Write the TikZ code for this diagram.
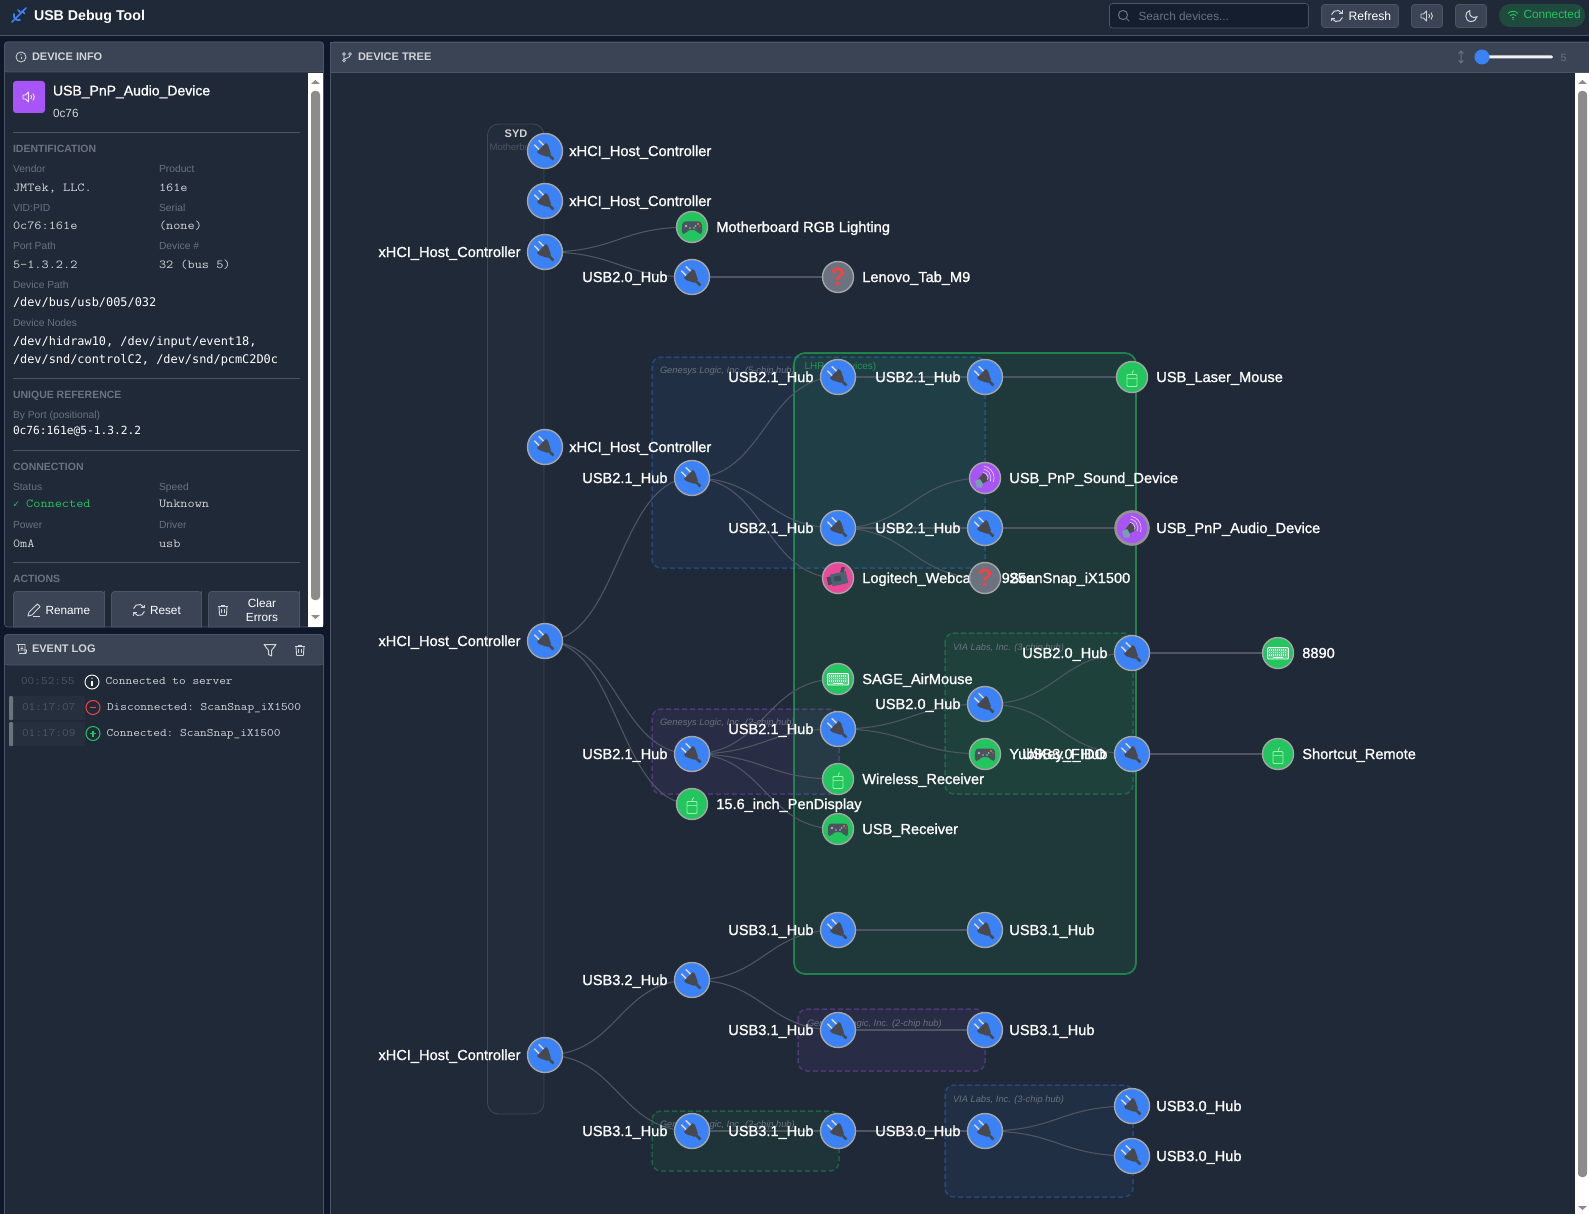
\documentclass[tikz,border=0pt]{standalone}
\usepackage{fontspec}
\usetikzlibrary{calc}
\setmainfont{Liberation Sans}
\newfontfamily\labf[FakeBold=1.1]{Liberation Sans}
\newfontfamily\courf[FakeStretch=1.14]{Latin Modern Mono}
\newfontfamily\dejm{DejaVu Sans Mono}
\newcommand\fsz[1]{\fontsize{#1}{#1}\selectfont}
\definecolor{page}{HTML}{0F172A}
\definecolor{panel}{HTML}{1F2937}
\definecolor{head}{HTML}{3A4455}
\definecolor{bord}{HTML}{4B5563}
\definecolor{mut}{HTML}{6B7280}
\definecolor{soft}{HTML}{D1D5DB}
\definecolor{blu}{HTML}{3B82F6}
\definecolor{grn}{HTML}{22C55E}
\definecolor{pur}{HTML}{A855F7}
\definecolor{pnk}{HTML}{EC4899}
\definecolor{gry}{HTML}{6B7280}
\definecolor{dk}{HTML}{47494F}
\definecolor{padc}{HTML}{4B5260}
\definecolor{camc}{HTML}{4A6472}
\definecolor{camd}{HTML}{3A4D5A}
\definecolor{redc}{HTML}{EF4444}
\definecolor{scrl}{HTML}{8C8C8C}
\definecolor{edgec}{HTML}{4F5563}
\colorlet{nodeb}{gray!70!white}
\pgfdeclarelayer{under}
\pgfdeclarelayer{links}
\pgfsetlayers{under,links,main}
\newcounter{tnum}
\newcommand\tx[3][]{\stepcounter{tnum}\node[txt,#1] (t\arabic{tnum}) at (#2) {#3};}
\tikzset{
  txt/.style={anchor=mid west,inner sep=0pt,outer sep=0pt,text=white,yshift=-1.8pt},
  sect/.style={font=\fsz{10.5}\bfseries,text=mut},
  key/.style={font=\fsz{10.3},text=mut},
  val/.style={font=\fsz{12.2}\courf\frenchspacing,text=soft},
  logv/.style={font=\fsz{11.4}\courf\frenchspacing,text=soft,yshift=1pt},
  devm/.style={font=\fsz{11.9}\dejm\frenchspacing,text=white},
  lbl/.style={inner sep=0pt,outer sep=0pt,text=white,font=\fsz{14.6}\labf},
  devnode/.style={circle,inner sep=0pt,outer sep=0pt,draw=nodeb,line width=1.4pt,minimum size=#1},
  hubn/.style={devnode=35pt,fill=blu},
  grnn/.style={devnode=31pt,fill=grn},
  purn/.style={devnode=31pt,fill=pur},
  pnkn/.style={devnode=31pt,fill=pnk},
  gryn/.style={devnode=31pt,fill=gry},
  edgeln/.style={draw=edgec,line width=1.1pt},
  grpblue/.style={draw=blu,draw opacity=.32,fill=blu,fill opacity=.07,dash pattern=on 5pt off 3pt,line width=1.5pt,rounded corners=9pt},
  grppur/.style={draw=pur,draw opacity=.32,fill=pur,fill opacity=.07,dash pattern=on 5pt off 3pt,line width=1.5pt,rounded corners=9pt},
  grpgrn/.style={draw=grn,draw opacity=.32,fill=grn,fill opacity=.07,dash pattern=on 5pt off 3pt,line width=1.5pt,rounded corners=9pt},
  grplab/.style={font=\fsz{9.3}\itshape,text=mut},
  btn/.style={draw=bord,fill=#1,line width=.7pt,rounded corners=3pt},
  plugicon/.pic={
    \begin{scope}[rotate=45,scale=.92,yshift=-.5pt]
      \fill[white!85!black] (-4.2,-13.5) rectangle (-2.6,-5);
      \fill[white!85!black] (2.6,-13.5) rectangle (4.2,-5);
      \fill[dk] (-6.8,-6) -- (6.8,-6) -- (6.8,-2.5) -- (2.6,6) -- (-2.6,6) -- (-6.8,-2.5) -- cycle;
      \fill[dk] (-1.4,5) rectangle (1.4,12.5);
    \end{scope}
  },
  padicon/.pic={
    \fill[padc,rounded corners=3pt] (-9.5,-5.5) -- (9.5,-5.5) -- (10.5,6.5) -- (6.5,7) -- (4.5,3) -- (-4.5,3) -- (-6.5,7) -- (-10.5,6.5) -- cycle;
    \fill[white!70!black] (-6,-1) circle (1.4pt) (-2,1) circle (.9pt) (2,1) circle (.9pt);
    \fill[orange] (6,-3) circle (1.2pt);
    \fill[grn!70!white] (3.6,-1) circle (.9pt);
    \fill[redc] (8,-1) circle (.9pt);
  },
  mouseicon/.pic={
    \draw[color=green!25!white,draw opacity=.8,line width=.8pt,rounded corners=1pt] (-5,-2.5) rectangle (5,9.5);
    \draw[color=green!25!white,draw opacity=.6,line width=.5pt] (-5,1) -- (5,1);
    \draw[color=green!25!white,draw opacity=.8,line width=.7pt] (0,-2.5) -- (.5,-5) -- (1.8,-6.5);
  },
  kbdicon/.pic={
    \fill[color=white,fill opacity=.25] (-10.5,-5.5) rectangle (10.5,6);
    \draw[color=white,line width=.9pt,rounded corners=1pt] (-10.5,-5.5) rectangle (10.5,6);
    \foreach \yy in {-3,-.5,2}{\draw[color=white,line width=1.2pt,dash pattern=on 1.2pt off .8pt] (-9,\yy) -- (9,\yy);}
    \draw[color=white,line width=1.2pt] (-5,4.2) -- (5,4.2);
  },
  spkicon/.pic={
    \fill[black!70] (-8,3) -- (-1,-6) -- (4,2) -- (-3,6) -- cycle;
    \fill[cyan!35!gray] (-10,3) -- (-5,1) -- (-2,6) -- (-3,9.5) -- (-8,9.5) -- cycle;
    \foreach \rr in {6,9,12}{\draw[color=pur!30!white,line width=.7pt] (-3,0) ++(-20:\rr pt) arc[start angle=-20,end angle=80,radius=\rr pt];}
  },
  camicon/.pic={
    \begin{scope}[rotate=12]
      \fill[camc] (-7,-5) rectangle (9,7);
      \fill[camd] (-11,-3) rectangle (-7,5);
      \fill[camd] (3,-5) -- (6,-10) -- (9,-9) -- (7,-5) -- cycle;
      \fill[camd] (-4,-2) rectangle (3,3);
    \end{scope}
  },
  quesicon/.pic={\node[inner sep=0pt,text=redc,font=\fsz{25}\bfseries] {?};},
  icinfo/.pic={\draw[line width=.8pt] (0,0) circle (5pt); \draw[line width=1pt] (0,-.4) -- (0,2.4); \fill (0,-2.2) circle (.6pt);},
  ictrash/.pic={\draw[line width=.9pt,rounded corners=.6pt] (-4,-3.5) -- (-3.4,5.5) -- (3.4,5.5) -- (4,-3.5); \draw[line width=.9pt] (-5,-3.5) -- (5,-3.5) (-1.8,-3.5) -- (-1.8,-5) -- (1.8,-5) -- (1.8,-3.5) (-1.2,-1) -- (-1.2,3) (1.2,-1) -- (1.2,3);},
  icrefresh/.pic={\draw[line width=1pt] (0,0) ++(30:5.6pt) arc[start angle=30,end angle=165,radius=5.6pt]; \draw[line width=1pt] (0,0) ++(210:5.6pt) arc[start angle=210,end angle=345,radius=5.6pt]; \draw[line width=1pt] (5.5,-5.5) -- (5.5,-2.2) -- (2.2,-2.2) (-5.5,5.5) -- (-5.5,2.2) -- (-2.2,2.2);},
  icfilter/.pic={\draw[line width=1pt,line join=round] (-6,-5.5) -- (6,-5.5) -- (1.5,0.5) -- (1.5,6) -- (-1.5,4.5) -- (-1.5,.5) -- cycle;},
  icspeak/.pic={\draw[line width=.9pt,line join=round] (-6,-2) -- (-3.5,-2) -- (-.5,-5) -- (-.5,5) -- (-3.5,2) -- (-6,2) -- cycle; \draw[line width=.9pt] (1.8,-2) .. controls (2.8,-1) and (2.8,1) .. (1.8,2); \draw[line width=.9pt] (4,-3.5) .. controls (5.8,-1.5) and (5.8,1.5) .. (4,3.5);},
  icmoon/.pic={\draw[line width=1pt] (-1,-5.5) .. controls (-7,-4.5) and (-6.5,5.5) .. (0,5.5) .. controls (3.5,5.5) and (5.5,3) .. (5.8,.8) .. controls (2,3) and (-3,0) .. (-1,-5.5);},
  icwifi/.pic={\draw[line width=.9pt] (-5,-1.5) .. controls (-2,-4.5) and (2,-4.5) .. (5,-1.5); \draw[line width=.9pt] (-3,.6) .. controls (-1,-1.2) and (1,-1.2) .. (3,.6); \draw[line width=.9pt] (-1.3,2.6) .. controls (-.5,2) and (.5,2) .. (1.3,2.6); \fill (0,4.3) circle (.8pt);},
  icsearch/.pic={\draw[line width=1pt] (-1,-1) circle (4.6pt); \draw[line width=1pt] (2.4,2.4) -- (5.2,5.2);},
  icpencil/.pic={\draw[line width=.9pt,line join=round] (-6,6) -- (-5,2.2) -- (3.4,-6) -- (6,-3.4) -- (-2,5) -- cycle; \draw[line width=.7pt] (-1,6.2) -- (6,6.2);},
  icscroll/.pic={\draw[line width=.8pt] (-4.5,-4.5) -- (4,-4.5) -- (4,4.5) -- (-2,4.5) (-2.5,-4.5) -- (-2.5,2.5) (-2,1) -- (5.5,1) -- (5.5,3) .. controls (5.5,4.5) and (4.5,4.5) .. (4,4.5) (-.5,-2) -- (2,-2) (-.5,-.5) -- (2,-.5);},
  icgit/.pic={\draw[line width=.8pt] (-3,-3) circle (1.4pt) (3,-3) circle (1.4pt) (-3,3.5) circle (1.4pt); \draw[line width=.8pt] (-3,-1.5) -- (-3,2) (3,-1.5) .. controls (3,1) and (-1,.5) .. (-2.7,2.2);},
  icarrows/.pic={\draw[line width=1pt] (0,-6) -- (0,6) (-2.4,-3.5) -- (0,-6) -- (2.4,-3.5) (-2.4,3.5) -- (0,6) -- (2.4,3.5);},
  icusb/.pic={\draw[line width=1.6pt,line cap=round] (-7,7) -- (7,-7) (-5,-1) .. controls (-6,3) and (-3,6) .. (1,5) (-1,-5) -- (2,-2) (3,-4) -- (5.5,-1.5);}
}
\newcommand\devR[5]{\node[#3] (#1) at (#2) {}; \pic at (#1) {#4}; \node[lbl,anchor=mid west] (#1-t) at ($(#1)+(24.3,2.4)$) {#5};}
\newcommand\devL[5]{\node[#3] (#1) at (#2) {}; \pic at (#1) {#4}; \node[lbl,anchor=mid east] (#1-t) at ($(#1)+(-24.5,2.4)$) {#5};}
\newcommand\lnk[2]{\begin{pgfonlayer}{links}\draw[edgeln] let \p1=(#1.center),\p2=(#2.center),\n1={0.5*\x1+0.5*\x2} in (#1.center) .. controls (\n1,\y1) and (\n1,\y2) .. (#2.center);\end{pgfonlayer}}
\begin{document}
\begin{tikzpicture}[x=1pt,y=-1pt]
\useasboundingbox (0,0) rectangle (1589,1214);
\begin{pgfonlayer}{under}
\fill[page] (0,0) rectangle (1589,1214);
% top bar
\fill[panel] (0,0) rectangle (1589,35);
\draw[bord,line width=.8pt] (0,35.3) -- (1589,35.3);
% left panels
\draw[bord,fill=panel,line width=.7pt,rounded corners=3pt] (4.5,42) rectangle (323.5,627);
\draw[bord,fill=head,line width=.7pt,rounded corners=3pt] (4.5,42) -- (323.5,42) -- (323.5,72) -- (4.5,72) -- cycle;
\draw[bord,fill=panel,line width=.7pt,rounded corners=3pt] (4.5,634.5) rectangle (323.5,1225);
\draw[bord,fill=head,line width=.7pt,rounded corners=3pt] (4.5,634.5) -- (323.5,634.5) -- (323.5,665) -- (4.5,665) -- cycle;
% tree panel
\draw[bord,fill=panel,line width=.7pt,rounded corners=3pt] (330.5,42) rectangle (1600,1225);
\draw[bord,fill=head,line width=.7pt] (330.5,42) -- (1600,42) -- (1600,72) -- (330.5,72) -- cycle;
% scrollbars
\fill[white] (308,73) rectangle (323,627);
\fill[scrl,rounded corners=3.5pt] (311,91) rectangle (320,600);
\fill[scrl] (311,84) -- (315.5,80) -- (320,84) -- cycle;
\fill[scrl] (311,615) -- (315.5,619) -- (320,615) -- cycle;
\fill[white] (1575,73) rectangle (1589,1214);
\fill[scrl,rounded corners=3.5pt] (1578,91) rectangle (1587,1177);
\fill[scrl] (1578,84) -- (1582.5,80) -- (1587,84) -- cycle;
\fill[scrl] (1578,1206) -- (1582.5,1210) -- (1587,1206) -- cycle;
% groups
\draw[bord,draw opacity=.7,fill=white,fill opacity=.015,line width=.8pt,rounded corners=11pt] (487.5,124) rectangle (544,1114);
\draw[grpblue] (652,357) rectangle (985,568);
\draw[grppur] (652,709) rectangle (839,794);
\draw[grn,draw opacity=.55,fill=grn,fill opacity=.1,line width=1.8pt,rounded corners=11pt] (794,353) rectangle (1136,974);
\draw[grpgrn] (945,633) rectangle (1133,794);
\draw[grppur] (798,1009) rectangle (985,1071);
\draw[grpgrn] (652,1111) rectangle (839,1171);
\draw[grpblue] (945,1085) rectangle (1133,1197);
\end{pgfonlayer}

% top bar content
\pic[color=blu] at (19,15) {icusb};
\tx[font=\fsz{14.2}\bfseries]{34,16}{USB Debug Tool}
\draw[btn=page!60!panel] (1109.5,3.5) rectangle (1308.5,28);
\pic[color=mut] at (1124,16) {icsearch};
\tx[font=\fsz{11.8},text=mut]{1138.5,16}{Search devices...}
\draw[btn=head] (1321.5,4.5) rectangle (1398.5,27.5);
\pic[color=soft] at (1337,16) {icrefresh};
\tx[font=\fsz{12.2}]{1348.5,16}{Refresh}
\draw[btn=head] (1411.5,4.5) rectangle (1442.5,27.5);
\pic[color=soft] at (1427,16) {icspeak};
\draw[btn=head] (1455.5,4.5) rectangle (1486.5,27.5);
\pic[color=soft] at (1471,16) {icmoon};
\fill[grn,fill opacity=.22,rounded corners=11pt] (1499,4) rectangle (1585,27);
\pic[color=grn] at (1513,15) {icwifi};
\tx[font=\fsz{11.8},text=grn]{1523.5,14.5}{Connected}

% device info
\pic[color=soft] at (21,57) {icinfo};
\tx[font=\fsz{11}\bfseries,text=soft]{32,56}{DEVICE INFO}
\fill[pur,rounded corners=3pt] (13,81) rectangle (45,113);
\pic[color=white!88!pur] at (29,97) {icspeak};
\tx[font=\fsz{14}\labf]{53,91}{USB\_PnP\_Audio\_Device}
\tx[font=\fsz{11.8},text=soft]{53,113}{0c76}
\foreach \yy in {132.5,378,450,562}{\draw[bord,line width=.7pt] (13,\yy) -- (300,\yy);}
\tx[sect]{13,148}{IDENTIFICATION}
\tx[key]{13,168}{Vendor}
\tx[key]{159,168}{Product}
\tx[val]{13,187}{JMTek, LLC.}
\tx[val]{159,187}{161e}
\tx[key]{13,207}{VID:PID}
\tx[key]{159,207}{Serial}
\tx[val]{13,225}{0c76:161e}
\tx[val]{159,225}{(none)}
\tx[key]{13,245}{Port Path}
\tx[key]{159,245}{Device \#}
\tx[val]{13,264}{5-1.3.2.2}
\tx[val]{159,264}{32 (bus 5)}
\tx[key]{13,284}{Device Path}
\tx[devm]{13,302}{/dev/bus/usb/005/032}
\tx[key]{13,322}{Device Nodes}
\tx[devm]{13,341}{/dev/hidraw10, /dev/input/event18,}
\tx[devm]{13,359}{/dev/snd/controlC2, /dev/snd/pcmC2D0c}
\tx[sect]{13,394}{UNIQUE REFERENCE}
\tx[key]{13,414}{By Port (positional)}
\tx[devm,font=\fsz{11.2}\dejm]{13,430}{0c76:161e@5-1.3.2.2}
\tx[sect]{13,466}{CONNECTION}
\tx[key]{13,486}{Status}
\tx[key]{159,486}{Speed}
\tx[val,text=grn]{13,503.5}{{\dejm\fsz{10}\char"2713}\ Connected}
\tx[val]{159,503.5}{Unknown}
\tx[key]{13,524}{Power}
\tx[key]{159,524}{Driver}
\tx[val]{13,543}{0mA}
\tx[val]{159,543}{usb}
\tx[sect]{13,578}{ACTIONS}
\draw[btn=head,sharp corners] (13.5,627) -- (13.5,594) [rounded corners=3pt] -- (13.5,591.5) -- (104.5,591.5) -- (104.5,594) [sharp corners] -- (104.5,627) -- cycle;
\draw[btn=head,sharp corners] (111.5,627) -- (111.5,594) [rounded corners=3pt] -- (111.5,591.5) -- (201.5,591.5) -- (201.5,594) [sharp corners] -- (201.5,627) -- cycle;
\draw[btn=head,sharp corners] (208.5,627) -- (208.5,594) [rounded corners=3pt] -- (208.5,591.5) -- (299.5,591.5) -- (299.5,594) [sharp corners] -- (299.5,627) -- cycle;
\pic[color=soft] at (34,610) {icpencil};
\tx[font=\fsz{11.8}]{45.5,610}{Rename}
\pic[color=soft] at (139,610) {icrefresh};
\tx[font=\fsz{11.8}]{150,610}{Reset}
\pic[color=soft] at (223,610) {ictrash};
\tx[font=\fsz{11.8},anchor=mid]{262,603}{Clear}
\tx[font=\fsz{11.8},anchor=mid]{262,617}{Errors}

% event log
\pic[color=soft] at (21,649) {icscroll};
\tx[font=\fsz{11}\bfseries,text=soft]{32,648}{EVENT LOG}
\pic[color=soft] at (270,650) {icfilter};
\pic[color=soft] at (300,650) {ictrash};
\fill[white,fill opacity=.03] (10,696) rectangle (85,720);
\fill[white,fill opacity=.03] (10,722) rectangle (85,746);
\fill[mut,rounded corners=1pt] (9,696) rectangle (13,720);
\fill[mut,rounded corners=1pt] (9,722) rectangle (13,746);
\tx[logv,text=bord]{21,681.5}{00:52:55}
\draw[white,line width=.9pt] (92,682) circle (7pt);
\draw[white,line width=1.1pt] (92,681) -- (92,686);
\fill[white] (92,678.5) circle (.7pt);
\tx[logv]{105.5,681}{Connected to server}
\tx[logv,text=bord]{22,707.5}{01:17:07}
\draw[redc,line width=1pt] (93,707.5) circle (7pt);
\draw[redc,line width=1.1pt] (90,707.5) -- (96,707.5);
\tx[logv]{107,707}{Disconnected: ScanSnap\_iX1500}
\tx[logv,text=bord]{22,733.5}{01:17:09}
\draw[grn,line width=1pt] (93,733.5) circle (7pt);
\draw[grn,line width=1.1pt] (90,733.5) -- (96,733.5) (93,730.5) -- (93,736.5);
\tx[logv]{106.5,733}{Connected: ScanSnap\_iX1500}

% tree header
\pic[color=soft] at (347,57) {icgit};
\tx[font=\fsz{11}\bfseries,text=soft]{358,56}{DEVICE TREE}
\pic[color=mut] at (1461,57) {icarrows};
\fill[white!90!gray,rounded corners=1.5pt] (1482,55.5) rectangle (1553,58.5);
\fill[blu] (1482,57) circle (7.5pt);
\tx[font=\fsz{10.5},text=mut]{1560.5,57}{5}

% group captions
\tx[font=\fsz{11}\bfseries,text=white!65!gray,anchor=mid]{516,133}{SYD}
\tx[font=\fsz{9.6},text=bord]{489.5,146}{Motherboard}
\tx[grplab]{660,369}{Genesys Logic, Inc. (5-chip hub)}
\tx[font=\fsz{10},text=grn!70!panel]{804.5,365.5}{LHR (8 devices)}
\tx[grplab]{660,721}{Genesys Logic, Inc. (2-chip hub)}
\tx[grplab]{953,646}{VIA Labs, Inc. (3-chip hub)}
\tx[grplab]{807,1022}{Genesys Logic, Inc. (2-chip hub)}
\tx[grplab]{660,1123}{Genesys Logic, Inc. (2-chip hub)}
\tx[grplab]{953,1098}{VIA Labs, Inc. (3-chip hub)}

% depth 0
\devR{ha}{545,151}{hubn}{plugicon}{xHCI\_Host\_Controller}
\devR{hb}{545,201}{hubn}{plugicon}{xHCI\_Host\_Controller}
\devL{hc}{545,252}{hubn}{plugicon}{xHCI\_Host\_Controller}
\devR{hd}{545,447}{hubn}{plugicon}{xHCI\_Host\_Controller}
\devL{he}{545,641}{hubn}{plugicon}{xHCI\_Host\_Controller}
\devL{hf}{545,1055}{hubn}{plugicon}{xHCI\_Host\_Controller}
% depth 1
\devR{rgb}{692,227}{grnn}{padicon}{Motherboard RGB Lighting}
\devL{h20}{692,277}{hubn}{plugicon}{USB2.0\_Hub}
\devL{pa}{692,478}{hubn}{plugicon}{USB2.1\_Hub}
\devL{pb}{692,754}{hubn}{plugicon}{USB2.1\_Hub}
\devR{pen}{692,804}{grnn}{mouseicon}{15.6\_inch\_PenDisplay}
\devL{s32}{692,980}{hubn}{plugicon}{USB3.2\_Hub}
\devL{s31}{692,1131}{hubn}{plugicon}{USB3.1\_Hub}
% depth 2
\devR{tab}{838,277}{gryn}{quesicon}{Lenovo\_Tab\_M9}
\devL{a1}{838,377}{hubn}{plugicon}{USB2.1\_Hub}
\devL{c1}{838,528}{hubn}{plugicon}{USB2.1\_Hub}
\devR{cam}{838,578}{pnkn}{camicon}{Logitech\_Webcam\_C925e}
\devR{sage}{838,679}{grnn}{kbdicon}{SAGE\_AirMouse}
\devL{e1}{838,729}{hubn}{plugicon}{USB2.1\_Hub}
\devR{wire}{838,779}{grnn}{mouseicon}{Wireless\_Receiver}
\devR{recv}{838,829}{grnn}{padicon}{USB\_Receiver}
\devL{i1}{838,930}{hubn}{plugicon}{USB3.1\_Hub}
\devL{k1}{838,1030}{hubn}{plugicon}{USB3.1\_Hub}
\devL{m1}{838,1131}{hubn}{plugicon}{USB3.1\_Hub}
% depth 3
\devL{b1}{985,377}{hubn}{plugicon}{USB2.1\_Hub}
\devR{snd}{985,478}{purn}{spkicon}{USB\_PnP\_Sound\_Device}
\devL{d1}{985,528}{hubn}{plugicon}{USB2.1\_Hub}
\devR{scan}{985,578}{gryn}{quesicon}{ScanSnap\_iX1500}
\devL{f1}{985,704}{hubn}{plugicon}{USB2.0\_Hub}
\devR{yub}{985,754}{grnn}{padicon}{YubiKey\_FIDO}
\devR{j1}{985,930}{hubn}{plugicon}{USB3.1\_Hub}
\devR{k2}{985,1030}{hubn}{plugicon}{USB3.1\_Hub}
\devL{m2}{985,1131}{hubn}{plugicon}{USB3.0\_Hub}
% depth 4
\devR{lsr}{1132,377}{grnn}{mouseicon}{USB\_Laser\_Mouse}
\devR{aud}{1132,528}{purn,draw=gray!85!white,line width=2.6pt,minimum size=33pt}{spkicon}{USB\_PnP\_Audio\_Device}
\devL{g1}{1132,653}{hubn}{plugicon}{USB2.0\_Hub}
\devL{g2}{1132,754}{hubn}{plugicon}{USB3.0\_Hub}
\devR{n1}{1132,1106}{hubn}{plugicon}{USB3.0\_Hub}
\devR{n2}{1132,1156}{hubn}{plugicon}{USB3.0\_Hub}
% depth 5
\devR{key}{1278,653}{grnn}{kbdicon}{8890}
\devR{rem}{1278,754}{grnn}{mouseicon}{Shortcut\_Remote}

% connectors
\lnk{hc}{rgb}\lnk{hc}{h20}\lnk{h20}{tab}
\lnk{he}{pa}\lnk{he}{pb}\lnk{he}{pen}
\lnk{pa}{a1}\lnk{pa}{c1}\lnk{pa}{cam}
\lnk{a1}{b1}\lnk{b1}{lsr}
\lnk{c1}{snd}\lnk{c1}{d1}\lnk{c1}{scan}\lnk{d1}{aud}
\lnk{pb}{sage}\lnk{pb}{e1}\lnk{pb}{wire}\lnk{pb}{recv}
\lnk{e1}{f1}\lnk{e1}{yub}
\lnk{f1}{g1}\lnk{f1}{g2}\lnk{g1}{key}\lnk{g2}{rem}
\lnk{hf}{s32}\lnk{hf}{s31}
\lnk{s32}{i1}\lnk{s32}{k1}\lnk{i1}{j1}\lnk{k1}{k2}
\lnk{s31}{m1}\lnk{m1}{m2}\lnk{m2}{n1}\lnk{m2}{n2}
\end{tikzpicture}
\end{document}
